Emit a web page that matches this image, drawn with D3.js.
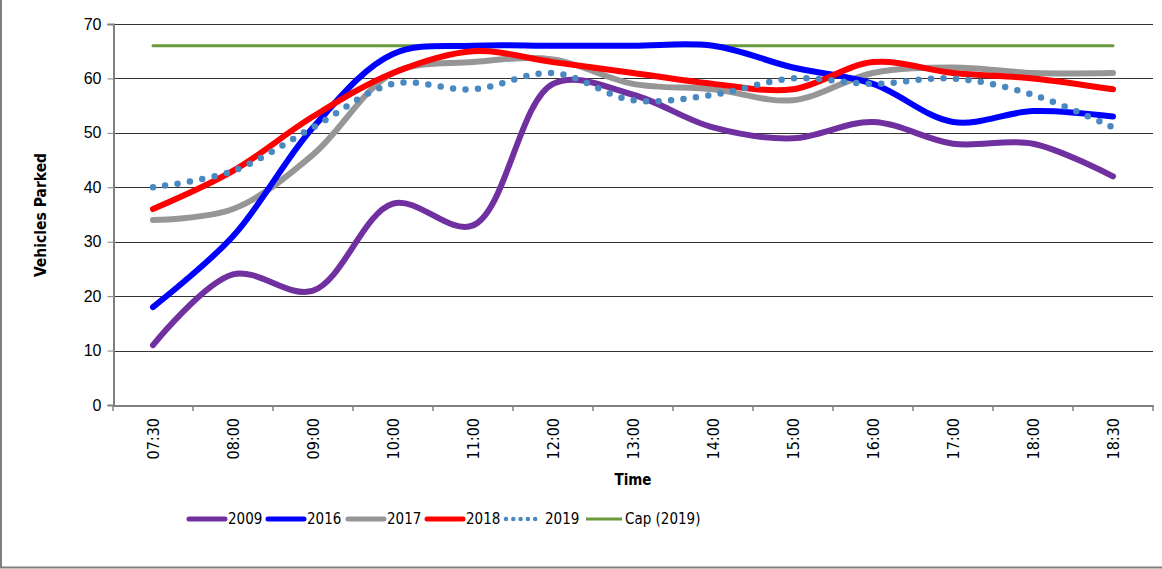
<!DOCTYPE html>
<html><head><meta charset="utf-8">
<script src="https://cdn.jsdelivr.net/npm/d3@7"></script>
<style>
body{margin:0;background:#fff;}
svg{display:block;font-family:"DejaVu Sans Condensed","DejaVu Sans",sans-serif;}
</style></head>
<body><svg id="c" width="1162" height="569"></svg>
<script>
const categories = ["07:30","08:00","09:00","10:00","11:00","12:00","13:00","14:00","15:00","16:00","17:00","18:00","18:30"];
const s2009 = [11,24,21,37,33,59,57,51,49,52,48,48,42];
const s2016 = [18,31,51,64.5,66,66,66,66,62,59,52,54,53];
const s2017 = [34,36,46,61,63,63.5,59,58,56,61,62,61,61];
const s2018 = [36,43,53,61,65,63,61,59,58,63,61,60,58];
const s2019 = [40,43,51,59,58,61,56,57,60,59,60,57,51];
const cap2019 = [66,66,66,66,66,66,66,66,66,66,66,66,66];
const yTicks = [0,10,20,30,40,50,60,70];
const seriesNames = ["2009","2016","2017","2018","2019","Cap (2019)"];

const series = [
  {name:seriesNames[0], values:s2009, color:"#7030A0", width:6, dash:null},
  {name:seriesNames[1], values:s2016, color:"#0000FF", width:6, dash:null},
  {name:seriesNames[2], values:s2017, color:"#969696", width:6, dash:null},
  {name:seriesNames[3], values:s2018, color:"#FF0000", width:6, dash:null},
  {name:seriesNames[4], values:s2019, color:"#4A88C2", width:6.5, dash:"0,12.5"},
  {name:seriesNames[5], values:cap2019, color:"#6A9A3C", width:3, dash:null}
];

const svg = d3.select("#c");
const L=113, R=1153, T=24, B=405;
const x = d3.scaleBand().domain(categories).range([L,R]);
const y = d3.scaleLinear().domain([0,70]).range([B,T]);

// outer frame
svg.append("path").attr("d","M1,-5 L1,567.5 L1170,567.5").attr("fill","none").attr("stroke","#7f7f7f").attr("stroke-width",2);

// gridlines
svg.append("g").selectAll("line").data(yTicks.filter(d=>d>0)).join("line")
  .attr("x1",L).attr("x2",R).attr("y1",d=>Math.round(y(d))+0.5).attr("y2",d=>Math.round(y(d))+0.5)
  .attr("stroke","#333").attr("stroke-width",1);

// y axis
const ya = svg.append("g").attr("transform",`translate(${L+0.5},0)`)
  .call(d3.axisLeft(y).tickValues(yTicks).tickSize(6).tickPadding(6).tickFormat(d3.format("d")));
ya.select(".domain").attr("stroke","#808080").attr("stroke-width",2);
ya.selectAll(".tick line").attr("stroke","#808080");
ya.selectAll("text").attr("font-size",16).attr("fill","#000").style("font-family","inherit");

// x axis
const xa = svg.append("g").attr("transform",`translate(0,${B+0.5})`)
  .call(d3.axisBottom(x).tickSize(0).tickFormat(""));
xa.select(".domain").attr("stroke","#808080").attr("stroke-width",2);
const tickPos = d3.range(categories.length+1).map(i=>L + i*x.step());
svg.append("g").selectAll("line").data(tickPos).join("line")
  .attr("x1",d=>d).attr("x2",d=>d).attr("y1",B).attr("y2",B+6).attr("stroke","#808080").attr("stroke-width",1.5);
svg.append("g").selectAll("text").data(categories).join("text")
  .attr("transform",d=>`translate(${x(d)+x.bandwidth()/2+6},418) rotate(-90)`)
  .attr("text-anchor","end").attr("font-size",16).attr("fill","#000").text(d=>d);

// axis titles
svg.append("text").attr("x",633).attr("y",485).attr("text-anchor","middle")
  .attr("font-size",15).attr("font-weight","bold").text("Time");
svg.append("text").attr("transform","translate(46,215) rotate(-90)").attr("text-anchor","middle")
  .attr("font-size",15.5).attr("font-weight","bold").text("Vehicles Parked");

// lines
const line = d3.line().x((d,i)=>x(categories[i])+x.bandwidth()/2).y(d=>y(d)).curve(d3.curveCatmullRom.alpha(0.5));
const gl = svg.append("g");
[5,0,2,1,3,4].forEach(k=>{
  const s = series[k];
  gl.append("path").datum(s.values).attr("d", s.name.startsWith("Cap") ? d3.line().x((d,i)=>x(categories[i])+x.bandwidth()/2).y(d=>y(d))(s.values) : line(s.values))
    .attr("fill","none").attr("stroke",s.color).attr("stroke-width",s.width)
    .attr("stroke-linecap","round").attr("stroke-linejoin","round")
    .attr("stroke-dasharray",s.dash);
});

// legend
const lx = [189,268,348,427,506,586];
const lg = svg.append("g");
series.forEach((s,i)=>{
  const g = lg.append("g").attr("transform",`translate(${lx[i]},519)`);
  g.append("line").attr("x1",0).attr("x2",36).attr("y1",0).attr("y2",0)
    .attr("stroke",s.color).attr("stroke-width", s.name.startsWith("Cap")?3:(s.dash?4.5:5))
    .attr("stroke-linecap", s.name.startsWith("Cap")?"butt":"round")
    .attr("stroke-dasharray", s.dash?"0,7.3":null);
  g.append("text").attr("x",39).attr("y",5).attr("font-size",15).attr("fill","#000").text(s.name);
});
</script></body></html>
